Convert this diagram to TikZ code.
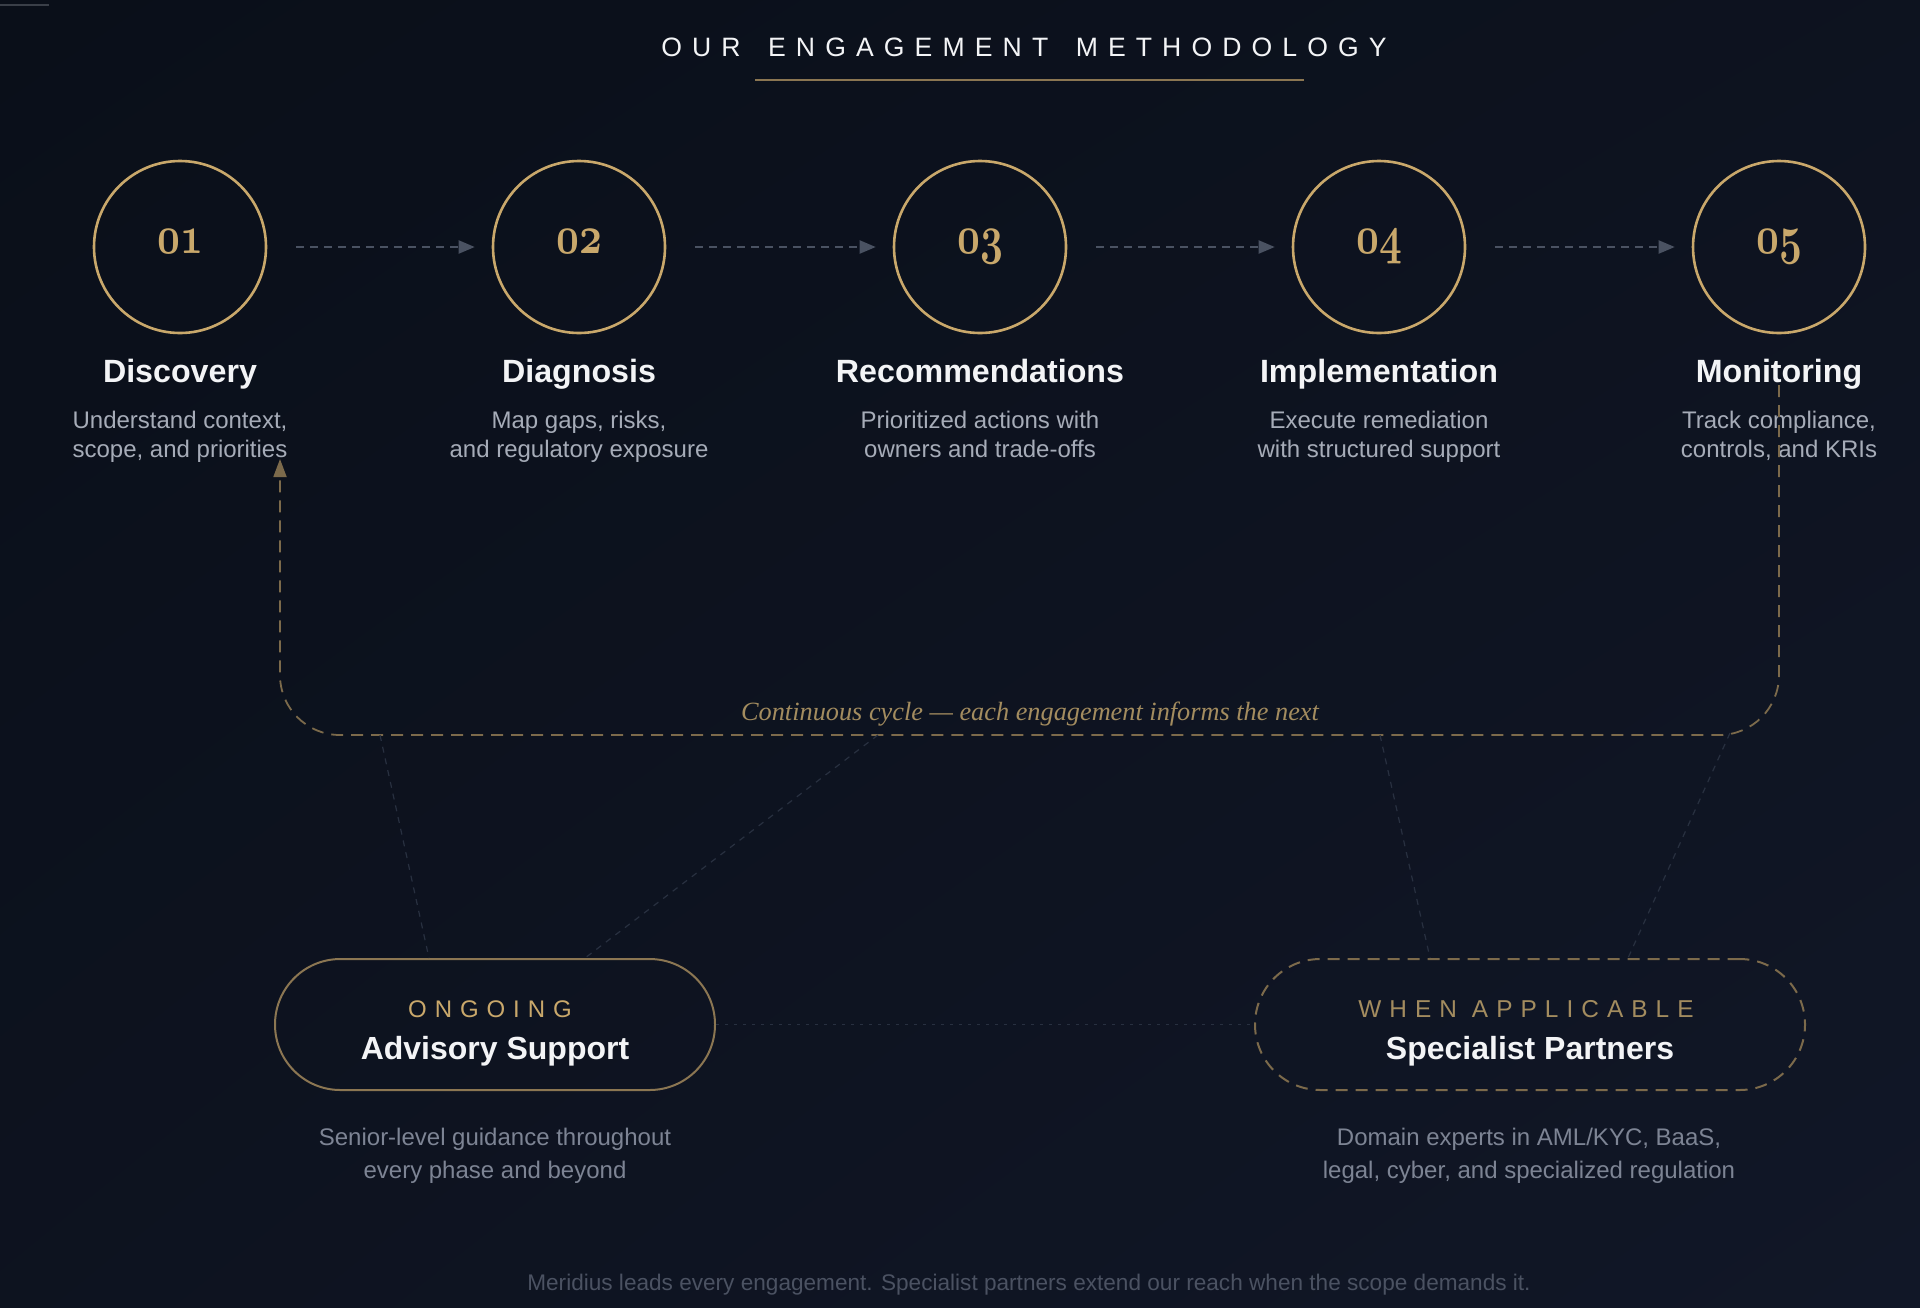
\documentclass[tikz,border=0pt]{standalone}
\usepackage{fontspec}
\usetikzlibrary{arrows.meta,shadings}
\setmainfont{Liberation Sans}
\newfontfamily\trackA{Liberation Sans}[LetterSpace=38]
\newfontfamily\trackB{Liberation Sans}[LetterSpace=33]
\newfontfamily\serifit{Liberation Serif}
\definecolor{bgA}{HTML}{0A0F19}
\definecolor{bgB}{HTML}{111727}
\definecolor{gold}{HTML}{C9A86B}
\definecolor{goldmid}{HTML}{8B7652}
\definecolor{golddash}{HTML}{7C6A4B}
\definecolor{goldtext}{HTML}{A38C5F}
\definecolor{txtwhite}{HTML}{F3F4F6}
\definecolor{descA}{HTML}{A6ACB8}
\definecolor{descB}{HTML}{7D8494}
\definecolor{footc}{HTML}{4B5262}
\definecolor{arrowgray}{HTML}{4A5262}
\definecolor{faint}{HTML}{283040}
\definecolor{cornerline}{HTML}{3A3F48}
\begin{document}
\begin{tikzpicture}[x=0.5pt,y=-0.5pt,
  stepcirc/.style={circle,draw=gold,line width=1.3pt,minimum size=86pt,inner sep=0pt},
  numtxt/.style={anchor=base,inner sep=0pt,text=gold,font=\fontsize{24.88}{28}\usefont{OML}{cmm}{b}{it}},
  ttl/.style={anchor=base,inner sep=0pt,text=txtwhite,font=\bfseries\fontsize{16.1}{19}\selectfont},
  desc/.style={anchor=base,inner sep=0pt,text=descA,font=\fontsize{12}{14}\selectfont},
  bdesc/.style={anchor=base,inner sep=0pt,text=descB,font=\fontsize{12}{14}\selectfont},
  steparrow/.style={draw=arrowgray,line width=1pt,dash pattern=on 4pt off 3pt,-{Triangle[length=8pt,width=6.5pt]}},
  loopline/.style={draw=golddash,line width=0.9pt,dash pattern=on 6pt off 4pt,-{Triangle[length=9pt,width=6.5pt,fill=golddash]}},
  faintline/.style={draw=faint,line width=0.6pt,dash pattern=on 3pt off 3pt},
  faintdot/.style={draw=faint,line width=0.6pt,dash pattern=on 1.5pt off 3pt},
  pill/.style={rectangle,rounded corners=32.7pt,minimum height=65.5pt,line width=1pt,inner sep=0pt},
  tag/.style={anchor=base,inner sep=0pt,font=\trackB\fontsize{12}{14}\selectfont},
  pillttl/.style={anchor=base,inner sep=0pt,text=txtwhite,font=\bfseries\fontsize{16}{19}\selectfont},
  cyclelabel/.style={anchor=base,inner sep=0pt,text=goldtext,font=\serifit\itshape\fontsize{13.15}{15}\selectfont},
  footer/.style={anchor=base,inner sep=0pt,text=footc,font=\fontsize{11.3}{13}\selectfont}
]
\useasboundingbox (0,0) rectangle (1920,1307);
\shade[upper left=bgA,upper right=bgA!55!bgB,lower left=bgA!55!bgB,lower right=bgB] (0,0) rectangle (1920,1307);
\draw[cornerline,line width=1pt] (0,5) -- (49,5);

% title
\node[anchor=base,inner sep=0pt,text=txtwhite,font={\trackA\fontsize{13.3}{15}\selectfont}] (title) at (1024,56) {OUR\kern5pt\ ENGAGEMENT\kern5pt\ METHODOLOGY};
\draw[goldmid,line width=0.75pt] (755,80) -- (1304,80);

% steps
\foreach \i/\x/\ttltext/\la/\lb in {
  1/180/Discovery/{Understand context,}/{scope, and priorities},
  2/579/Diagnosis/{Map gaps, risks,}/{and regulatory exposure},
  3/980/Recommendations/{Prioritized actions with}/{owners and trade-offs},
  4/1379/Implementation/{Execute remediation}/{with structured support},
  5/1779/Monitoring/{Track compliance,}/{controls, and KRIs}}{
  \node[stepcirc] (c\i) at (\x,247) {};
  \node[numtxt] (n\i) at (\x,253) {\scalebox{0.8}[1.08]{0\i}};
  \node[ttl] (t\i) at (\x,382) {\ttltext};
  \node[desc] (da\i) at (\x,428) {\la};
  \node[desc] (db\i) at (\x,457) {\lb};
}
\foreach \i/\j in {1/2,2/3,3/4,4/5}
  \draw[steparrow] ([xshift=14.5pt]c\i.east) -- ([xshift=-8.5pt]c\j.west);

% feedback loop
\coordinate (loopstart) at (1779,385);
\coordinate (cr) at (1779,735);
\coordinate (cl) at (280,735);
\coordinate (loopend) at (280,459);
\draw[loopline,rounded corners=30pt] (loopstart) -- (cr) -- (cl) -- (loopend);
\node[cyclelabel] (cyc) at (1030,720) {Continuous cycle — each engagement informs the next};

% pills
\node[pill,draw=goldmid,minimum width=220pt] (adv) at (495,1024.5) {};
\node[pill,draw=golddash,dash pattern=on 6pt off 4pt,minimum width=275pt] (spec) at (1530,1024.5) {};

\coordinate (f1) at (380,735);
\coordinate (f2) at (878,735);
\coordinate (f3) at (1380,735);
\coordinate (f4) at (1730,733);
\draw[faintline] (f1) -- ([xshift=-33pt]adv.north);
\draw[faintline] (f2) -- ([xshift=45pt]adv.north);
\draw[faintline] (f3) -- ([xshift=-50pt]spec.north);
\draw[faintline] (f4) -- ([xshift=49pt]spec.north);
\draw[faintdot] (adv.east) -- (spec.west);

\node[tag,text=gold] (advtag) at (490,1017) {ONGOING};
\node[pillttl] (advttl) at (495,1059) {Advisory Support};
\node[bdesc] (adva) at (495,1145) {Senior-level guidance throughout};
\node[bdesc] (advb) at (495,1178) {every phase and beyond};

\node[tag,text=goldtext,font=\trackB\fontsize{12.2}{14}\selectfont] (spectag) at (1526,1017) {WHEN APPLICABLE};
\node[pillttl] (specttl) at (1530,1059) {Specialist Partners};
\node[bdesc] (speca) at (1529,1145) {Domain experts in AML/KYC, BaaS,};
\node[bdesc] (specb) at (1529,1178) {legal, cyber, and specialized regulation};

\node[footer] (foot) at (1029,1290) {Meridius leads every engagement. Specialist partners extend our reach when the scope demands it.};
\end{tikzpicture}
\end{document}
